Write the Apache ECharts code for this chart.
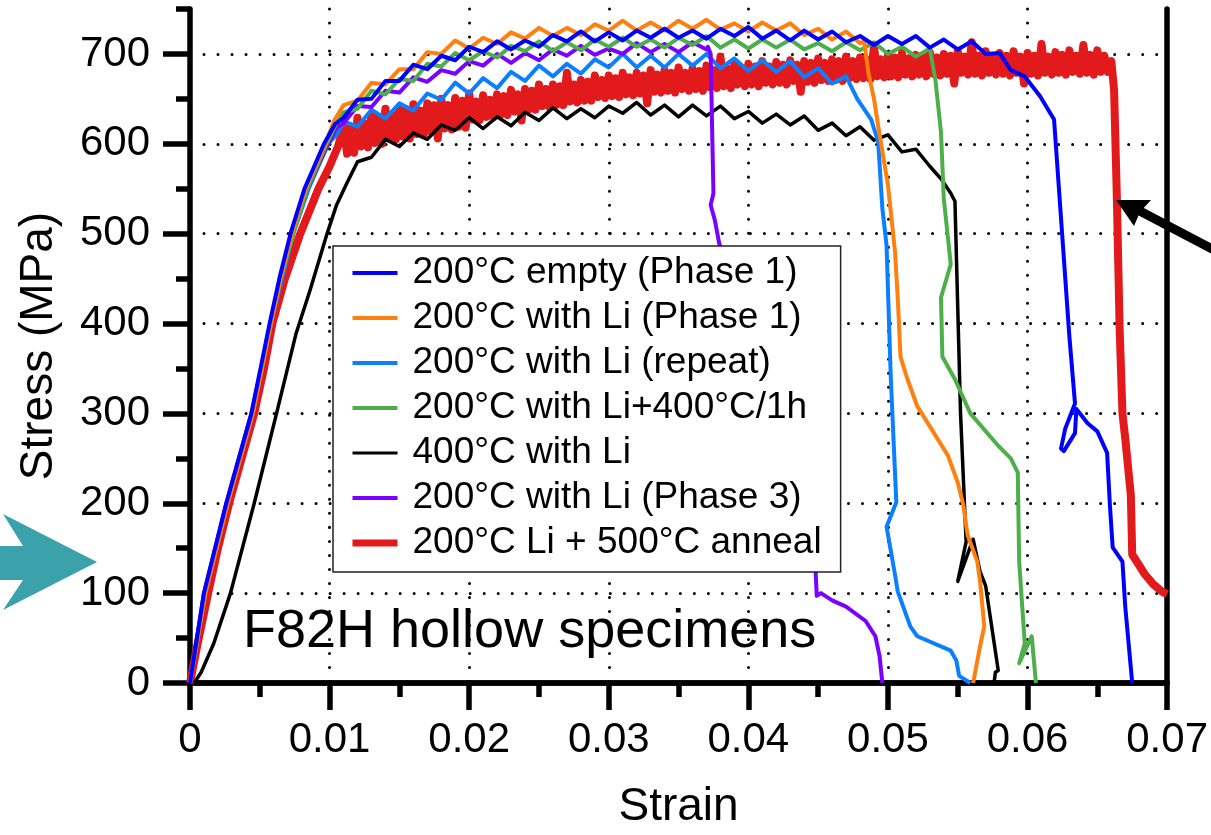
<!DOCTYPE html>
<html>
<head>
<meta charset="utf-8">
<script src="https://cdn.jsdelivr.net/npm/echarts@6/dist/echarts.min.js"></script>
<style>
html,body{margin:0;padding:0;background:#fff;}
#chart{width:1211px;height:835px;}
</style>
</head>
<body>
<div id="chart"></div>
<script>
// ---- data (strain, stress MPa) ----
const seriesNames = [
  '200°C empty (Phase 1)',
  '200°C with Li (Phase 1)',
  '200°C with Li (repeat)',
  '200°C with Li+400°C/1h',
  '400°C with Li',
  '200°C with Li (Phase 3)',
  '200°C Li + 500°C anneal'
];
const seriesColors = ['#0000ff', '#ff800e', '#0a7fff', '#4daf4a', '#000000', '#7a00ff', '#e31a1c'];

const yTickValues = [0, 100, 200, 300, 400, 500, 600, 700];

const empty200 = [[0,0],[0.0010,100],[0.0026,200],[0.0044,300],[0.0057,400],[0.0064,450],[0.0072,500],[0.0082,550],[0.0096,600],[0.0104,622],
[0.011,629],[0.012,649],[0.013,650],[0.014,670],[0.015,670],[0.016,688],[0.017,683],[0.018,698],[0.019,693],[0.020,708],[0.021,702],[0.022,714],[0.023,705],[0.024,715],[0.025,708],[0.026,721],[0.027,714],[0.028,725],[0.029,714],[0.030,724],[0.031,715],[0.032,726],[0.033,718],[0.034,728],[0.035,718],[0.036,726],[0.037,717],[0.038,728],[0.039,720],[0.040,730],[0.041,717],[0.042,726],[0.043,715],[0.044,726],[0.045,716],[0.046,725],[0.047,713],[0.048,720],[0.049,710],[0.050,720],[0.051,711],[0.052,720],[0.053,707],[0.054,716],[0.055,705],[0.056,714],[0.057,700],[0.058,701],
[0.0588,682],[0.0598,675],[0.0609,653],[0.0619,627],[0.0630,385],[0.0634,311],[0.0627,283],[0.0624,261],[0.0626,258],[0.0634,278],[0.0635,305],[0.0643,289],[0.0650,280],[0.0657,256],[0.0659,198],[0.0661,151],[0.0668,135],[0.0670,85],[0.0675,0]];

const withLi200 = [[0,0],[0.0011,100],[0.0027,200],[0.0045,300],[0.0058,400],[0.0065,450],[0.0073,500],[0.0083,550],[0.0097,600],[0.0103,625],
[0.011,643],[0.012,648],[0.013,668],[0.014,666],[0.015,683],[0.016,683],[0.017,702],[0.018,700],[0.019,715],[0.020,706],[0.021,718],[0.022,711],[0.023,724],[0.024,717],[0.025,729],[0.026,720],[0.027,729],[0.028,721],[0.029,733],[0.030,726],[0.031,737],[0.032,726],[0.033,735],[0.034,726],[0.035,737],[0.036,728],[0.037,738],[0.038,727],[0.039,734],[0.040,725],[0.041,735],[0.042,726],[0.043,734],[0.044,721],[0.045,728],[0.046,716],[0.047,725],[0.048,712],
[0.0483,714],[0.0486,679],[0.0490,650],[0.0493,620],[0.0500,554],[0.0505,481],[0.0507,429],[0.0509,363],[0.0514,338],[0.0521,308],[0.0531,283],[0.0543,253],[0.0550,223],[0.0554,198],[0.0557,165],[0.0564,135],[0.0566,113],[0.0569,63],[0.0566,41],[0.0561,0]];

const repeat200 = [[0,0],[0.0011,100],[0.0027,200],[0.0045,300],[0.0058,400],[0.0066,450],[0.0074,500],[0.0085,550],[0.0099,600],[0.0106,612],
[0.011,625],[0.012,619],[0.013,638],[0.014,628],[0.015,645],[0.016,637],[0.017,656],[0.018,649],[0.019,668],[0.020,656],[0.021,673],[0.022,662],[0.023,680],[0.024,670],[0.025,687],[0.026,675],[0.027,689],[0.028,678],[0.029,694],[0.030,685],[0.031,700],[0.032,685],[0.033,698],[0.034,685],[0.035,700],[0.036,687],[0.037,700],[0.038,684],[0.039,695],[0.040,681],[0.041,693],[0.042,680],[0.043,692],[0.044,674],[0.045,684],[0.046,667],[0.047,675],
[0.0478,650],[0.0488,627],[0.0493,602],[0.0496,528],[0.0499,487],[0.0502,341],[0.0506,201],[0.0499,174],[0.0505,121],[0.0507,102],[0.0516,63],[0.0521,52],[0.0545,36],[0.0549,25],[0.0551,8],[0.0559,0]];

const li400h = [[0,0],[0.0011,100],[0.0027,200],[0.0045,300],[0.0058,400],[0.0065,450],[0.0074,500],[0.0084,550],[0.0098,600],[0.0104,620],
[0.011,635],[0.012,639],[0.013,659],[0.014,655],[0.015,672],[0.016,670],[0.017,689],[0.018,686],[0.019,701],[0.020,693],[0.021,703],[0.022,696],[0.023,709],[0.024,703],[0.025,714],[0.026,703],[0.027,713],[0.028,704],[0.029,716],[0.030,708],[0.031,718],[0.032,708],[0.033,716],[0.034,707],[0.035,718],[0.036,710],[0.037,720],[0.038,707],[0.039,716],[0.040,706],[0.041,716],[0.042,707],[0.043,716],[0.044,705],[0.045,712],[0.046,703],[0.047,713],[0.048,704],[0.049,713],[0.050,700],[0.051,708],[0.052,697],[0.053,706],
[0.0534,671],[0.0538,613],[0.0540,539],[0.0545,466],[0.0538,429],[0.0539,363],[0.0548,338],[0.0559,300],[0.0579,264],[0.0588,250],[0.0593,234],[0.0594,135],[0.0598,44],[0.0594,22],[0.0603,52],[0.0606,0]];

const li400C = [[0.0003,0],[0.0008,12],[0.0017,44],[0.0029,100],[0.0046,200],[0.0062,300],[0.0076,389],[0.0086,437],[0.0098,499],[0.0105,532],[0.0112,555],
[0.012,580],[0.013,585],[0.014,605],[0.015,597],[0.016,612],[0.017,605],[0.018,621],[0.019,615],[0.020,629],[0.021,617],[0.022,630],[0.023,620],[0.024,635],[0.025,626],[0.026,640],[0.027,628],[0.028,639],[0.029,629],[0.030,642],[0.031,634],[0.032,646],[0.033,632],[0.034,643],[0.035,630],[0.036,643],[0.037,631],[0.038,642],[0.039,628],[0.040,636],[0.041,623],[0.042,633],[0.043,621],[0.044,631],[0.045,615],[0.046,623],[0.047,609],[0.048,619],[0.049,604],[0.050,610],[0.051,591],[0.052,594],[0.053,575],
[0.0538,561],[0.0545,545],[0.0548,536],[0.0552,300],[0.0556,157],[0.0550,113],[0.0561,160],[0.0566,124],[0.0570,108],[0.0579,14],[0.0577,12],[0.0576,0]];

const phase3 = [[0,0],[0.0010,100],[0.0026,200],[0.0044,300],[0.0058,400],[0.0065,450],[0.0073,500],[0.0084,550],[0.0099,600],[0.0105,618],
[0.011,623],[0.012,642],[0.013,641],[0.014,659],[0.015,657],[0.016,674],[0.017,669],[0.018,682],[0.019,678],[0.020,692],[0.021,687],[0.022,700],[0.023,690],[0.024,701],[0.025,693],[0.026,705],[0.027,698],[0.028,709],[0.029,699],[0.030,706],[0.031,700],[0.032,712],[0.033,702],[0.034,711],[0.035,702],[0.036,713],[0.037,705],
[0.0371,708],[0.0373,700],[0.0374,620],[0.0375,545],[0.0373,532],[0.0376,515],[0.0379,490],[0.0448,130],[0.0449,97],[0.0452,100],[0.0460,92],[0.0470,85],[0.0484,69],[0.0491,52],[0.0494,30],[0.0496,0]];

const anneal500 = [[0,0],[0.0005,40],[0.0013,100],[0.0020,150],[0.0028,200],[0.0037,250],[0.0046,300],[0.0053,350],[0.0059,400],[0.0068,450],[0.0079,500],[0.0092,550],[0.0100,575],[0.0106,597],
[0.01100,619],[0.01125,589],[0.01150,619],[0.01175,590],[0.01200,629],[0.01225,597],[0.01250,623],[0.01275,596],[0.01300,632],[0.01325,601],[0.01350,630],[0.01375,600],[0.01400,639],[0.01425,606],[0.01450,632],[0.01475,605],[0.01500,640],[0.01525,608],[0.01550,637],[0.01575,606],[0.01600,644],[0.01625,611],[0.01650,637],[0.01675,610],[0.01700,645],[0.01725,614],[0.01750,643],[0.01775,606],[0.01800,650],[0.01825,617],[0.01850,643],[0.01875,616],[0.01900,651],[0.01925,619],[0.01950,648],[0.01975,618],[0.02000,656],
[0.02025,627],[0.02050,647],[0.02075,626],[0.02100,654],[0.02125,630],[0.02150,649],[0.02175,630],[0.02200,655],[0.02225,632],[0.02250,653],[0.02275,632],[0.02300,660],[0.02325,636],[0.02350,655],[0.02375,626],[0.02400,661],[0.02425,638],[0.02450,659],[0.02475,638],[0.02500,666],[0.02525,642],[0.02550,661],[0.02575,641],[0.02600,666],[0.02625,643],[0.02650,664],[0.02675,643],[0.02700,679],[0.02725,647],[0.02750,666],[0.02775,646],[0.02800,671],[0.02825,648],[0.02850,669],[0.02875,648],[0.02900,676],[0.02925,652],[0.02950,671],[0.02975,651],[0.03000,676],
[0.03025,653],[0.03050,673],[0.03075,652],[0.03100,679],[0.03125,655],[0.03150,674],[0.03175,654],[0.03200,679],[0.03225,656],[0.03250,676],[0.03275,645],[0.03300,682],[0.03325,658],[0.03350,677],[0.03375,657],[0.03400,682],[0.03425,659],[0.03450,679],[0.03475,657],[0.03500,685],[0.03525,661],[0.03550,679],[0.03575,659],[0.03600,684],[0.03625,661],[0.03650,681],[0.03675,659],[0.03700,687],[0.03725,663],[0.03750,682],[0.03775,662],[0.03800,697],[0.03825,664],[0.03850,684],[0.03875,662],[0.03900,690],[0.03925,666],[0.03950,684],[0.03975,664],[0.04000,689],
[0.04025,666],[0.04050,686],[0.04075,664],[0.04100,692],[0.04125,668],[0.04150,686],[0.04175,666],[0.04200,691],[0.04225,668],[0.04250,688],[0.04275,666],[0.04300,693],[0.04325,670],[0.04350,688],[0.04375,658],[0.04400,692],[0.04425,669],[0.04450,690],[0.04475,668],[0.04500,695],[0.04525,671],[0.04550,690],[0.04575,670],[0.04600,694],[0.04625,671],[0.04650,692],[0.04675,670],[0.04700,697],[0.04725,673],[0.04750,692],[0.04775,672],[0.04800,696],[0.04825,673],[0.04850,694],[0.04875,672],[0.04900,709],[0.04925,675],[0.04950,694],[0.04975,674],[0.05000,698],
[0.05025,675],[0.05050,696],[0.05075,674],[0.05100,701],[0.05125,677],[0.05150,695],[0.05175,675],[0.05200,699],[0.05225,677],[0.05250,697],[0.05275,675],[0.05300,702],[0.05325,678],[0.05350,696],[0.05375,676],[0.05400,700],[0.05425,678],[0.05450,698],[0.05475,667],[0.05500,703],[0.05525,679],[0.05550,697],[0.05575,677],[0.05600,713],[0.05625,678],[0.05650,698],[0.05675,676],[0.05700,703],[0.05725,679],[0.05750,697],[0.05775,677],[0.05800,701],[0.05825,678],[0.05850,698],[0.05875,676],[0.05900,703],[0.05925,679],[0.05950,697],[0.05975,667],[0.06000,701],
[0.06025,678],[0.06050,698],[0.06075,676],[0.06100,711],[0.06125,679],[0.06150,697],[0.06175,677],[0.06200,702],[0.06225,679],[0.06250,699],[0.06275,677],[0.06300,704],[0.06325,680],[0.06350,698],[0.06375,678],[0.06400,710],[0.06425,679],[0.06450,699],[0.06475,677],[0.06500,704],[0.06525,680],[0.06550,698],[0.06575,680],[0.06600,692],
[0.0662,660],[0.0663,600],[0.0664,539],[0.0666,393],[0.0668,300],[0.0670,272],[0.0674,209],[0.0675,143],[0.0684,121],[0.0690,110],[0.0696,102],[0.0700,99]];

const seriesData = [empty200, withLi200, repeat200, li400h, li400C, phase3, anneal500];
const seriesWidths = [4, 4, 4, 4, 3.5, 4, 8];
const legendWidths = [4, 4, 4, 4, 3, 4, 7];
// drawing order (bottom -> top)
const drawOrder = [6, 4, 2, 5, 3, 1, 0];

const FONT = "'Liberation Sans', Arial, Helvetica, sans-serif";
const chart = echarts.init(document.getElementById('chart'), null, {renderer: 'canvas'});

const dotted = {color: '#000', width: 3, type: [0.01, 14], cap: 'round'};

const option = {
  animation: false,
  backgroundColor: '#fff',
  grid: {left: 190, right: 41, top: 9, bottom: 145, containLabel: false},
  legend: {
    orient: 'vertical', left: 333, top: 246,
    padding: [7, 19, 9, 16], itemGap: 5, itemWidth: 45, itemHeight: 14,
    backgroundColor: '#fff', borderColor: '#222', borderWidth: 1.5,
    selectedMode: false,
    itemStyle: {opacity: 0},
    textStyle: {fontSize: 37, color: '#000', fontFamily: FONT, lineHeight: 40, padding: [0, 0, 0, 10]},
    data: seriesNames.map((n, i) => ({name: n, lineStyle: {width: legendWidths[i]}, itemStyle: {opacity: 0}}))
  },
  xAxis: [{
    type: 'value', min: 0, max: 0.07, interval: 0.01, position: 'bottom',
    name: 'Strain', nameLocation: 'middle', nameGap: 101,
    nameTextStyle: {fontSize: 46, color: '#000', fontFamily: FONT},
    axisLine: {show: true, lineStyle: {color: '#000', width: 5.5}},
    axisTick: {show: true, inside: false, length: 27, lineStyle: {color: '#000', width: 5.5}},
    minorTick: {show: true, splitNumber: 2, length: 14, lineStyle: {color: '#000', width: 5.5}},
    axisLabel: {fontSize: 42, color: '#000', fontFamily: FONT, margin: 36,
      formatter: v => v === 0 ? '0' : String(+v.toFixed(2))},
    splitLine: {show: true, lineStyle: dotted}
  }, {
    type: 'value', min: 0, max: 0.07, position: 'top',
    axisLine: {show: true, lineStyle: {color: '#000', width: 5.5}},
    axisTick: {show: false}, axisLabel: {show: false}, splitLine: {show: false}
  }],
  yAxis: [{
    type: 'value', min: 0, max: 750, interval: 100, position: 'left',
    name: 'Stress (MPa)', nameLocation: 'middle', nameGap: 128,
    nameTextStyle: {fontSize: 46, color: '#000', fontFamily: FONT},
    axisLine: {show: true, lineStyle: {color: '#000', width: 5.5}},
    axisTick: {show: true, inside: false, length: 27, customValues: yTickValues, lineStyle: {color: '#000', width: 5.5}},
    axisLabel: {fontSize: 42, color: '#000', fontFamily: FONT, margin: 40, customValues: yTickValues,
      formatter: v => v > 700 ? '' : String(v)},
    splitLine: {show: true, lineStyle: dotted}
  }, {
    type: 'value', min: 0, max: 750, interval: 50, position: 'left',
    axisLine: {show: false},
    axisTick: {show: true, inside: false, length: 14, lineStyle: {color: '#000', width: 5.5}},
    axisLabel: {show: false}, splitLine: {show: false}
  }, {
    type: 'value', min: 0, max: 750, position: 'right',
    axisLine: {show: true, lineStyle: {color: '#000', width: 5.5}},
    axisTick: {show: false}, axisLabel: {show: false}, splitLine: {show: false}
  }],
  series: drawOrder.map(i => ({
    name: seriesNames[i], type: 'line', data: seriesData[i],
    xAxisIndex: 0, yAxisIndex: 0,
    symbol: 'none', showSymbol: false, smooth: false, clip: true,
    color: seriesColors[i],
    lineStyle: {color: seriesColors[i], width: seriesWidths[i], join: 'round'},
    emphasis: {disabled: true}
  })),
  graphic: [
    {type: 'text', x: 243, y: 632, z: 100,
      style: {text: 'F82H hollow specimens', font: '54px ' + FONT, fill: '#000', align: 'left', verticalAlign: 'middle'}},
    {type: 'polygon', z: 100, shape: {points: [[0,546],[23,546],[3,514],[97,562],[3,610],[23,580],[0,580]]},
      style: {fill: '#3ba1ab'}},
    {type: 'line', z: 100, shape: {x1: 1136, y1: 209, x2: 1216, y2: 251}, style: {stroke: '#000', lineWidth: 9}},
    {type: 'polygon', z: 100, shape: {points: [[1116,200],[1151,200],[1140,212],[1134,226]]}, style: {fill: '#000'}}
  ]
};
chart.setOption(option);
</script>
</body>
</html>
